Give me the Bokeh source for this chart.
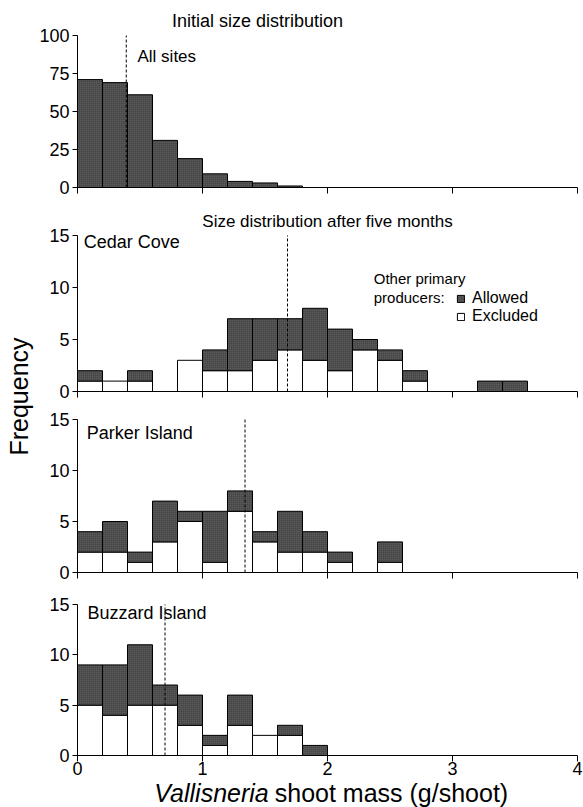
from bokeh.plotting import figure
from bokeh.layouts import column, row
from bokeh.models import (Range1d, FixedTicker, Label, Legend, LegendItem,
                          ColumnDataSource)
from bokeh.embed import file_html
from bokeh.resources import INLINE

# ---------------- data ----------------
bin_width = 0.2
bin_left = [0.0, 0.2, 0.4, 0.6, 0.8, 1.0, 1.2, 1.4, 1.6, 1.8,
            2.0, 2.2, 2.4, 2.6, 2.8, 3.0, 3.2, 3.4]

initial_counts = [71, 69, 61, 31, 19, 9, 4, 3, 1]
initial_mean = 0.39

cedar_excluded = [1, 1, 1, 0, 3, 2, 2, 3, 4, 3, 2, 4, 3, 1, 0, 0, 0, 0]
cedar_total    = [2, 1, 2, 0, 3, 4, 7, 7, 7, 8, 6, 5, 4, 2, 0, 0, 1, 1]
cedar_mean = 1.68

parker_excluded = [2, 2, 1, 3, 5, 1, 6, 3, 2, 2, 1, 0, 1]
parker_total    = [4, 5, 2, 7, 6, 6, 8, 4, 6, 4, 2, 0, 3]
parker_mean = 1.34

buzzard_excluded = [5, 4, 5, 5, 3, 1, 3, 2, 2, 0]
buzzard_total    = [9, 9, 11, 7, 6, 2, 6, 2, 3, 1]
buzzard_mean = 0.70

x_ticks = [0, 1, 2, 3, 4]
y_ticks_initial = [0, 25, 50, 75, 100]
y_ticks_after = [0, 5, 10, 15]

# ---------------- style ----------------
FONT = "Liberation Sans"
DARK = dict(fill_color="#5a5a5a", hatch_pattern="+", hatch_scale=2,
            hatch_color="#1e1e1e", hatch_weight=0.5, hatch_alpha=0.7,
            line_color="black", line_width=1)
WHITE = dict(fill_color="white", line_color="black", line_width=1)
TICK_FONT = "18px"

LEFT_W = 36
MAIN_W = 583 - LEFT_W
BORDER_L = 77 - LEFT_W
BORDER_R = 6


def make_panel(height, bottom, axis_px, y_top, yticks, show_xlabels):
    """Frame fills the canvas from its top; the y axis spans 0..y_top
    over axis_px pixels, the rest of the frame above is free for texts."""
    frame_h = height - bottom
    y_end = y_top * frame_h / axis_px
    p = figure(width=MAIN_W, height=height, x_range=Range1d(0, 4),
               y_range=Range1d(0, y_end), toolbar_location=None,
               output_backend="svg", min_border_left=BORDER_L,
               min_border_right=BORDER_R, min_border_top=0,
               min_border_bottom=bottom)
    p.outline_line_color = None
    p.grid.visible = False
    p.background_fill_color = "white"
    p.border_fill_color = "white"
    xa = p.xaxis[0]
    xa.ticker = FixedTicker(ticks=x_ticks, minor_ticks=[])
    xa.major_tick_out = 6
    xa.major_tick_in = 0
    xa.minor_tick_out = 0
    xa.axis_line_color = "black"
    xa.major_tick_line_color = "black"
    if show_xlabels:
        xa.major_label_text_font = FONT
        xa.major_label_text_font_size = TICK_FONT
        xa.major_label_text_color = "black"
        xa.major_label_standoff = 0
    else:
        xa.major_label_text_font_size = "1px"
        xa.major_label_text_color = None
        xa.major_label_standoff = 0
    ya = p.yaxis[0]
    ya.ticker = FixedTicker(ticks=yticks, minor_ticks=[])
    ya.bounds = (0, y_top)
    ya.major_tick_out = 5
    ya.major_tick_in = 0
    ya.minor_tick_out = 0
    ya.axis_line_color = "black"
    ya.major_tick_line_color = "black"
    ya.major_label_text_font = FONT
    ya.major_label_text_font_size = TICK_FONT
    ya.major_label_text_color = "black"
    ya.major_label_standoff = 3
    return p


def add_text(p, x, y, text, size="18px", align="left", style="normal",
             baseline="middle", x_offset=0):
    p.add_layout(Label(x=x, y=y, x_offset=x_offset, text=text, text_font=FONT,
                       text_font_size=size, text_align=align,
                       text_baseline=baseline, text_font_style=style,
                       text_color="black"))


def stacked(p, excluded, total):
    n = len(total)
    centers = [bin_left[i] + bin_width / 2 for i in range(n)]
    ex_idx = [i for i in range(n) if excluded[i] > 0]
    al_idx = [i for i in range(n) if total[i] > excluded[i]]
    src_ex = ColumnDataSource(dict(x=[centers[i] for i in ex_idx],
                                   top=[excluded[i] for i in ex_idx]))
    src_al = ColumnDataSource(dict(x=[centers[i] for i in al_idx],
                                   bottom=[excluded[i] for i in al_idx],
                                   top=[total[i] for i in al_idx]))
    r_ex = p.vbar(x="x", top="top", bottom=0, width=bin_width, source=src_ex, **WHITE)
    r_al = p.vbar(x="x", top="top", bottom="bottom", width=bin_width,
                  source=src_al, **DARK)
    return r_al, r_ex


def mean_line(p, m, y_top):
    p.segment(x0=[m], y0=[0], x1=[m], y1=[y_top], line_color="black",
              line_width=1, line_dash="3 2")


# ---------- panel 1: initial ----------
p1 = make_panel(200, 13, 152, 100, y_ticks_initial, False)
n0 = len(initial_counts)
src0 = ColumnDataSource(dict(x=[bin_left[i] + bin_width / 2 for i in range(n0)],
                             top=initial_counts))
p1.vbar(x="x", top="top", bottom=0, width=bin_width, source=src0, **DARK)
mean_line(p1, initial_mean, 100)
add_text(p1, 1.44, 109.5, "Initial size distribution", "18px", align="center")
add_text(p1, 0.48, 86.5, "All sites", "17px")

# ---------- panel 2: Cedar Cove ----------
p2 = make_panel(205, 14, 156, 15, y_ticks_after, False)
r_al, r_ex = stacked(p2, cedar_excluded, cedar_total)
mean_line(p2, cedar_mean, 15)
add_text(p2, 2.0, 16.3, "Size distribution after five months", "17px", align="center")
add_text(p2, 0.05, 14.4, "Cedar Cove", "18px")
add_text(p2, 2.37, 10.9, "Other primary", "15px")
add_text(p2, 2.37, 9.05, "producers:", "15px")
legend = Legend(items=[LegendItem(label="Allowed", renderers=[r_al]),
                       LegendItem(label="Excluded", renderers=[r_ex])],
                location=(379, 66), glyph_width=9, glyph_height=9,
                label_text_font=FONT, label_text_font_size="16px",
                label_text_color="black",
                label_standoff=7, spacing=0, padding=0, margin=0,
                label_height=18, border_line_color=None,
                background_fill_alpha=0)
p2.add_layout(legend)

# ---------- panel 3: Parker Island ----------
p3 = make_panel(185, 18, 153, 15, y_ticks_after, False)
stacked(p3, parker_excluded, parker_total)
mean_line(p3, parker_mean, 15)
add_text(p3, 0.074, 13.65, "Parker Island", "18px")

# ---------- panel 4: Buzzard Island ----------
p4 = make_panel(190, 25, 151, 15, y_ticks_after, True)
stacked(p4, buzzard_excluded, buzzard_total)
mean_line(p4, buzzard_mean, 15)
add_text(p4, 0.08, 14.2, "Buzzard Island", "18px")

# ---------- x-axis title strip ----------
xl = figure(width=MAIN_W, height=27, x_range=Range1d(0, 4), y_range=Range1d(0, 27),
            toolbar_location=None, output_backend="svg", x_axis_type=None,
            y_axis_type=None, min_border_left=BORDER_L, min_border_right=BORDER_R,
            min_border_top=0, min_border_bottom=0)
xl.outline_line_color = None
add_text(xl, 1.53, 15, "Vallisneria", "25px", align="right", style="italic")
add_text(xl, 1.53, 15, "shoot mass (g/shoot)", "25px", align="left", x_offset=6)

# ---------- shared y label ----------
fq = figure(width=LEFT_W, height=807, x_range=Range1d(0, LEFT_W),
            y_range=Range1d(0, 807), toolbar_location=None, output_backend="svg",
            x_axis_type=None, y_axis_type=None, min_border=0)
fq.outline_line_color = None
fq.add_layout(Label(x=18, y=807 - 396, text="Frequency", angle=90,
                    angle_units="deg", text_align="center", text_baseline="middle",
                    text_font=FONT, text_font_size="25px", text_color="black"))

layout = row(fq, column(p1, p2, p3, p4, xl, spacing=0), spacing=0)

open("out.html", "w").write(file_html(layout, INLINE))
